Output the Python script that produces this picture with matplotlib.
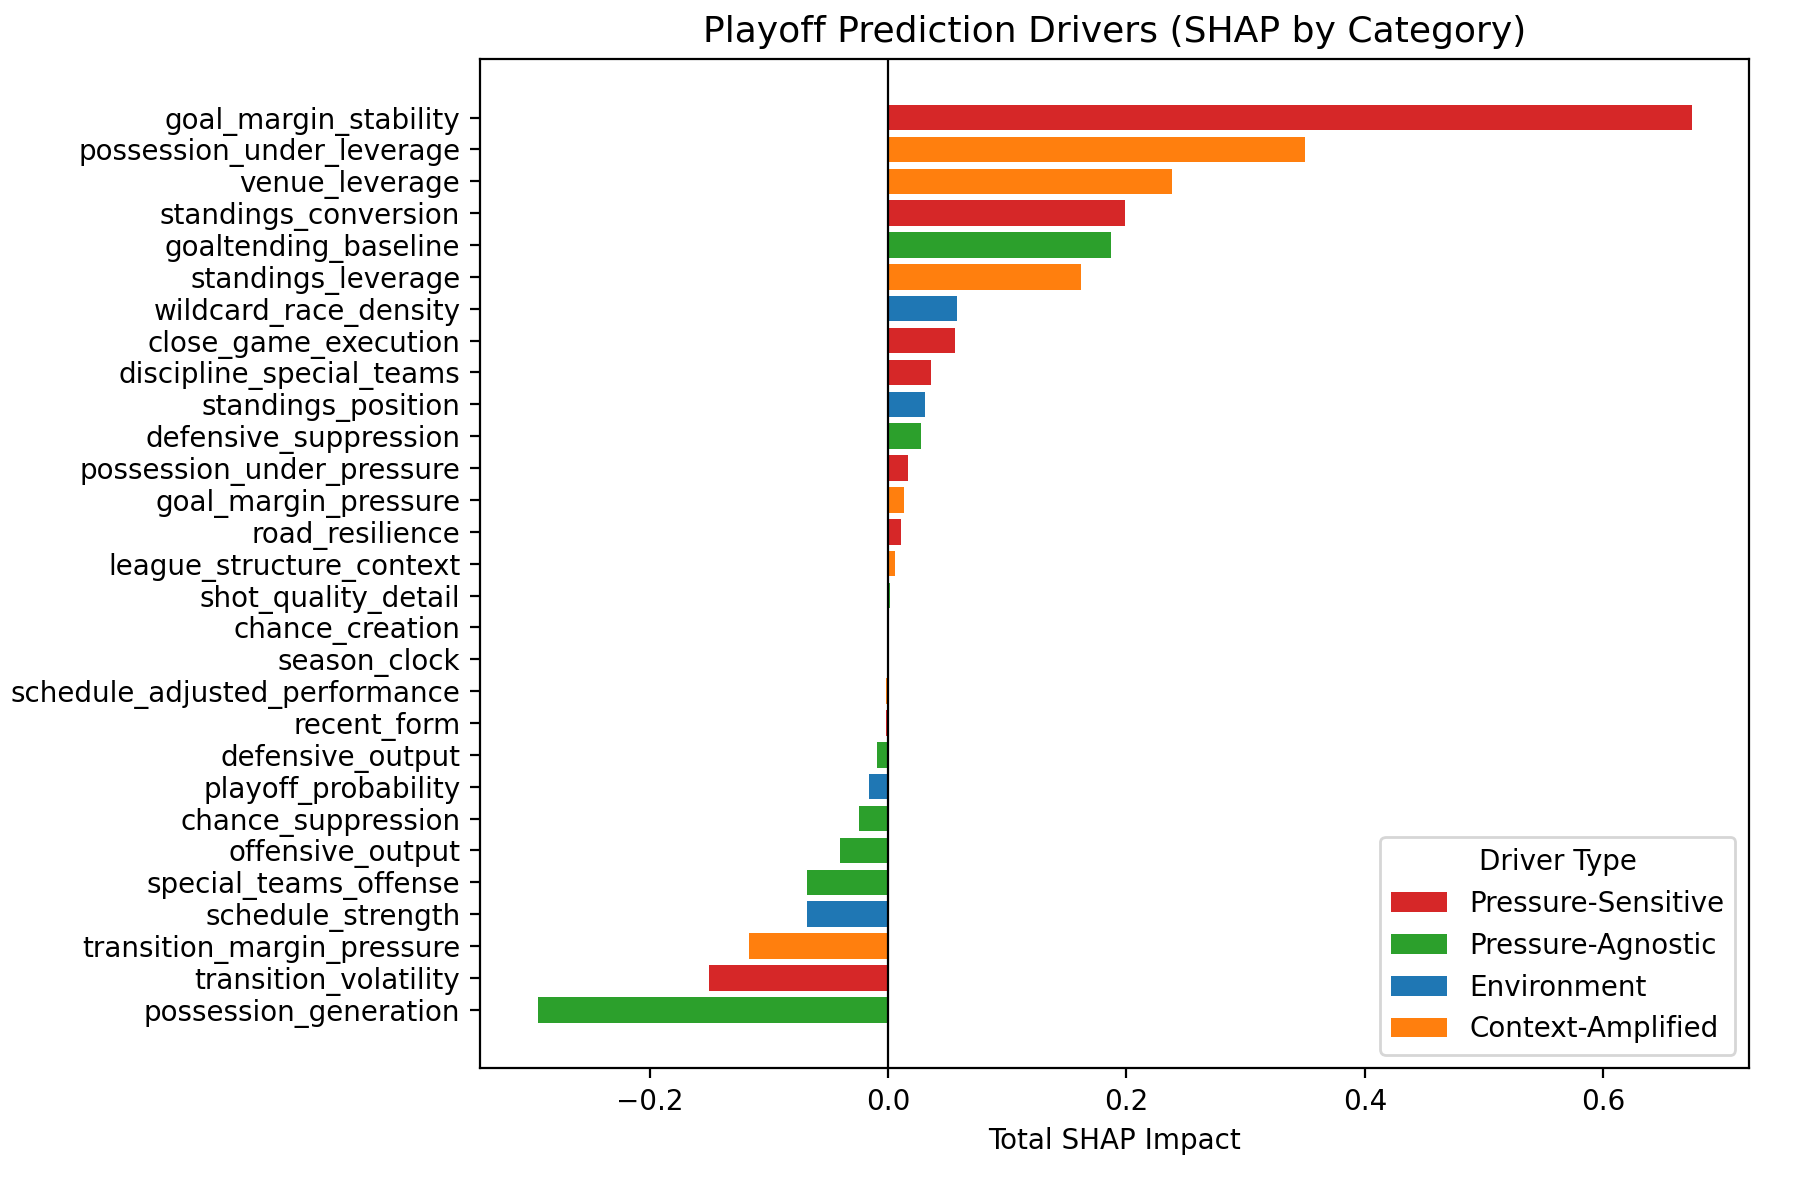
import matplotlib
matplotlib.use("Agg")
import matplotlib.pyplot as plt
from matplotlib.patches import Patch

features = [
    "goal_margin_stability", "possession_under_leverage", "venue_leverage",
    "standings_conversion", "goaltending_baseline", "standings_leverage",
    "wildcard_race_density", "close_game_execution", "discipline_special_teams",
    "standings_position", "defensive_suppression", "possession_under_pressure",
    "goal_margin_pressure", "road_resilience", "league_structure_context",
    "shot_quality_detail", "chance_creation", "season_clock",
    "schedule_adjusted_performance", "recent_form", "defensive_output",
    "playoff_probability", "chance_suppression", "offensive_output",
    "special_teams_offense", "schedule_strength", "transition_margin_pressure",
    "transition_volatility", "possession_generation",
]
shap_values = [
    0.674, 0.350, 0.238, 0.199, 0.187, 0.162, 0.058, 0.056, 0.036, 0.031,
    0.028, 0.017, 0.013, 0.011, 0.006, 0.002, 0.0, 0.0, -0.002, -0.002,
    -0.009, -0.016, -0.024, -0.040, -0.068, -0.068, -0.117, -0.150, -0.294,
]
driver_types = [
    "Pressure-Sensitive", "Context-Amplified", "Context-Amplified",
    "Pressure-Sensitive", "Pressure-Agnostic", "Context-Amplified",
    "Environment", "Pressure-Sensitive", "Pressure-Sensitive",
    "Environment", "Pressure-Agnostic", "Pressure-Sensitive",
    "Context-Amplified", "Pressure-Sensitive", "Context-Amplified",
    "Pressure-Agnostic", "Pressure-Agnostic", "Environment",
    "Context-Amplified", "Pressure-Sensitive", "Pressure-Agnostic",
    "Environment", "Pressure-Agnostic", "Pressure-Agnostic",
    "Pressure-Agnostic", "Environment", "Context-Amplified",
    "Pressure-Sensitive", "Pressure-Agnostic",
]
legend_order = ["Pressure-Sensitive", "Pressure-Agnostic", "Environment", "Context-Amplified"]
type_colors = {
    "Pressure-Sensitive": "#d62728",
    "Pressure-Agnostic": "#2ca02c",
    "Environment": "#1f77b4",
    "Context-Amplified": "#ff7f0e",
}

fig = plt.figure(figsize=(9.07, 5.89), dpi=200)
ax = fig.add_axes([0.2645, 0.093, 0.6998, 0.857])

ypos = list(range(len(features)))
colors = [type_colors[t] for t in driver_types]
ax.barh(ypos, shap_values, color=colors, height=0.8)
ax.set_yticks(ypos)
ax.set_yticklabels(features, fontsize=10)
ax.invert_yaxis()
ax.axvline(0, color="black", linewidth=0.8)

ax.set_xlabel("Total SHAP Impact", fontsize=10)
ax.set_title("Playoff Prediction Drivers (SHAP by Category)", fontsize=13)

handles = [Patch(facecolor=type_colors[t], label=t) for t in legend_order]
ax.legend(handles=handles, title="Driver Type", loc="lower right", fontsize=10, title_fontsize=10)

fig.savefig("out.png", dpi=200)
